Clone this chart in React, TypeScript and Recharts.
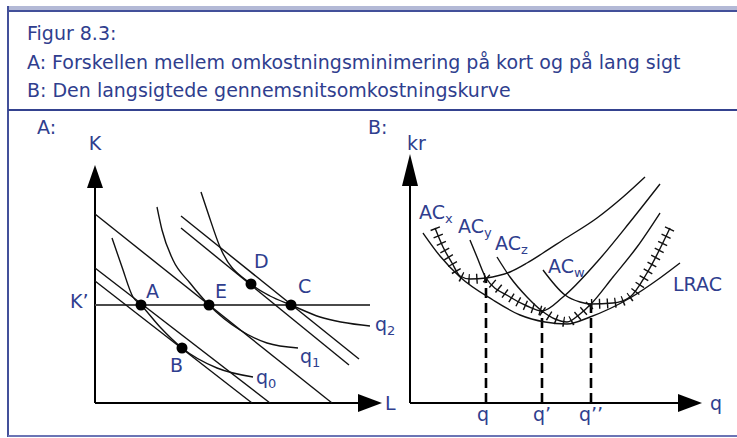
import { ComposedChart, Line, ReferenceDot, ReferenceLine, Scatter, XAxis, YAxis } from "recharts";

const INK = "#2f3e8e";
const FONT = "'DejaVu Sans', Verdana, sans-serif";
const BORDER = "#43509a";

// ---- Panel A: L on x, K on y ----
const isocostA = [{ x: 0, y: 135 }, { x: 175, y: 0 }];
const isocostB = [{ x: 0, y: 122 }, { x: 157, y: 0 }];
const isocostE = [{ x: 0, y: 189 }, { x: 237, y: 0 }];
const isocostC = [{ x: 86, y: 187 }, { x: 264, y: 44 }];
const isocostD = [{ x: 86, y: 175 }, { x: 254, y: 38 }];

const isoquant0 = [
  { x: 17, y: 165 }, { x: 27, y: 136 }, { x: 38, y: 106 }, { x: 46, y: 98 },
  { x: 65, y: 76 }, { x: 87, y: 55 }, { x: 122, y: 35 }, { x: 158, y: 26 },
];
const isoquant1 = [
  { x: 62, y: 196 }, { x: 67, y: 173 }, { x: 78, y: 143 }, { x: 95, y: 120 },
  { x: 114, y: 98 }, { x: 145, y: 73 }, { x: 172, y: 60 }, { x: 203, y: 55 },
];
const isoquant2 = [
  { x: 106, y: 211 }, { x: 113, y: 190 }, { x: 125, y: 156 }, { x: 156, y: 119 },
  { x: 175, y: 107 }, { x: 196, y: 98 }, { x: 225, y: 86 }, { x: 275, y: 77 },
];

const kFixed = 98;
const kFixedEnd = 275;
const axisEndA = { x: 287, y: 238 };

const pointsA = [
  { x: 46, y: 98 }, { x: 87, y: 55 }, { x: 114, y: 98 }, { x: 156, y: 119 }, { x: 196, y: 98 },
];

const labelsA = [
  { x: -58, y: 269, text: "A:" },
  { x: 0, y: 253, text: "K", mid: true },
  { x: -25, y: 95, text: "K’" },
  { x: 51, y: 105, text: "A" },
  { x: 120, y: 105, text: "E" },
  { x: 159, y: 135, text: "D" },
  { x: 203, y: 110, text: "C" },
  { x: 75, y: 31, text: "B" },
  { x: 161, y: 19, text: "q", sub: "0" },
  { x: 205, y: 40, text: "q", sub: "1" },
  { x: 280, y: 72, text: "q", sub: "2" },
  { x: 290, y: -7, text: "L" },
];

// ---- Panel B: q on x, kr on y ----
const lrac = [
  { x: 13, y: 170 }, { x: 30, y: 147 }, { x: 50, y: 126 }, { x: 83, y: 103 }, { x: 110, y: 88 },
  { x: 135, y: 81 }, { x: 157, y: 79 }, { x: 180, y: 86 }, { x: 220, y: 105 }, { x: 250, y: 125 },
  { x: 270, y: 140 },
];
const acX = [
  { x: 25, y: 175 }, { x: 33, y: 156 }, { x: 42, y: 140 }, { x: 50, y: 127 }, { x: 60, y: 124 },
  { x: 76, y: 125 }, { x: 100, y: 131 }, { x: 117, y: 140 }, { x: 133, y: 150 }, { x: 153, y: 163 },
  { x: 187, y: 185 }, { x: 213, y: 206 }, { x: 235, y: 226 },
];
const acY = [
  { x: 60, y: 163 }, { x: 67, y: 146 }, { x: 76, y: 125 }, { x: 100, y: 106 }, { x: 117, y: 97 },
  { x: 132, y: 92 }, { x: 153, y: 106 }, { x: 187, y: 141 }, { x: 220, y: 181 }, { x: 250, y: 219 },
];
const acZ = [
  { x: 87, y: 146 }, { x: 100, y: 126 }, { x: 117, y: 106 }, { x: 132, y: 92 }, { x: 145, y: 84 },
  { x: 157, y: 81 }, { x: 170, y: 89 }, { x: 181, y: 99 }, { x: 203, y: 126 }, { x: 227, y: 156 },
  { x: 250, y: 190 },
];
const acW = [
  { x: 133, y: 133 }, { x: 155, y: 108 }, { x: 170, y: 101 }, { x: 181, y: 99 }, { x: 203, y: 100 },
  { x: 220, y: 106 }, { x: 237, y: 130 }, { x: 260, y: 175 },
];

// envelope of the short-run curves (hatched)
const envelope = [acX.slice(0, 6), acY.slice(2, 6), acZ.slice(3, 8), acW.slice(3)];

const qTicks = [76, 132, 181];
const qTickTops = [125, 92, 99];
const qTickLabels = ["q", "q’", "q’’"];
const axisEndB = { x: 292, y: 249 };

const labelsB = [
  { x: -42, y: 269, text: "B:" },
  { x: -3, y: 253, text: "kr" },
  { x: 9, y: 184, text: "AC", sub: "x" },
  { x: 48, y: 170, text: "AC", sub: "y" },
  { x: 85, y: 153, text: "AC", sub: "z" },
  { x: 138, y: 130, text: "AC", sub: "w" },
  { x: 263, y: 112, text: "LRAC" },
  { x: 300, y: -7, text: "q" },
  ...qTicks.map((t, i) => ({ x: i === 0 ? t - 3 : t, y: -18, text: qTickLabels[i], mid: true })),
];

const renderLabel = (p: any) => {
  const d = p.payload;
  return (
    <text
      x={p.cx}
      y={p.cy}
      textAnchor={d.mid ? "middle" : "start"}
      fontSize={19}
      fontFamily={FONT}
      fill={INK}
    >
      {d.text}
      {d.sub && (
        <tspan fontSize={13} dy={4}>
          {d.sub}
        </tspan>
      )}
    </text>
  );
};

const renderDot = (p: any) => <circle cx={p.cx} cy={p.cy} r={5.5} fill="#000" />;

const arrowRight = (p: any) => (
  <polygon points={`${p.cx},${p.cy} ${p.cx - 24},${p.cy - 9} ${p.cx - 24},${p.cy + 9}`} fill="#000" />
);
const arrowUp = (len: number) => (p: any) => (
  <polygon points={`${p.cx},${p.cy} ${p.cx - 8},${p.cy + len} ${p.cx + 8},${p.cy + len}`} fill="#000" />
);

function curve(data: { x: number; y: number }[], key: string, type: "linear" | "monotone" = "monotone", width = 1.4) {
  return (
    <Line
      key={key}
      data={data}
      dataKey="y"
      type={type}
      stroke="#111"
      strokeWidth={width}
      dot={false}
      activeDot={false}
      isAnimationActive={false}
    />
  );
}

function PanelA() {
  return (
    <ComposedChart width={405} height={324} margin={{ top: 0, right: 0, bottom: 0, left: 0 }}>
      <XAxis type="number" dataKey="x" domain={[-95, 310]} hide allowDataOverflow />
      <YAxis type="number" dataKey="y" domain={[-33, 291]} hide allowDataOverflow />
      <ReferenceLine segment={[{ x: 0, y: 0 }, { x: axisEndA.x - 10, y: 0 }]} stroke="#000" strokeWidth={2} />
      <ReferenceLine segment={[{ x: 0, y: 0 }, { x: 0, y: axisEndA.y - 10 }]} stroke="#000" strokeWidth={2} />
      <ReferenceDot x={axisEndA.x} y={0} r={0} shape={arrowRight} ifOverflow="visible" />
      <ReferenceDot x={0} y={axisEndA.y} r={0} shape={arrowUp(23)} ifOverflow="visible" />
      <ReferenceLine segment={[{ x: 0, y: kFixed }, { x: kFixedEnd, y: kFixed }]} stroke="#4a4a4a" strokeWidth={2.2} />
      {curve(isocostA, "cA", "linear")}
      {curve(isocostB, "cB", "linear")}
      {curve(isocostE, "cE", "linear")}
      {curve(isocostC, "cC", "linear")}
      {curve(isocostD, "cD", "linear")}
      {curve(isoquant0, "q0")}
      {curve(isoquant1, "q1")}
      {curve(isoquant2, "q2")}
      <Scatter data={pointsA} shape={renderDot} isAnimationActive={false} />
      <Scatter data={labelsA} shape={renderLabel} isAnimationActive={false} />
    </ComposedChart>
  );
}

function PanelB() {
  return (
    <ComposedChart width={377} height={324} margin={{ top: 0, right: 0, bottom: 0, left: 0 }}>
      <XAxis type="number" dataKey="x" domain={[-50, 327]} hide allowDataOverflow />
      <YAxis type="number" dataKey="y" domain={[-33, 291]} hide allowDataOverflow />
      <ReferenceLine segment={[{ x: 0, y: 0 }, { x: axisEndB.x - 10, y: 0 }]} stroke="#000" strokeWidth={2} />
      <ReferenceLine segment={[{ x: 0, y: 0 }, { x: 0, y: axisEndB.y - 10 }]} stroke="#000" strokeWidth={2} />
      <ReferenceDot x={axisEndB.x} y={0} r={0} shape={arrowRight} ifOverflow="visible" />
      <ReferenceDot x={0} y={axisEndB.y} r={0} shape={arrowUp(32)} ifOverflow="visible" />
      {qTicks.map((t, i) => (
        <ReferenceLine
          key={t}
          segment={[{ x: t, y: 0 }, { x: t, y: qTickTops[i] }]}
          stroke="#000"
          strokeWidth={2.6}
          strokeDasharray="10 5"
        />
      ))}
      {curve(lrac, "lrac")}
      {curve(acX, "acx")}
      {curve(acY, "acy")}
      {curve(acZ, "acz")}
      {curve(acW, "acw")}
      {envelope.map((seg, i) => (
        <Line
          key={`h${i}`}
          data={seg}
          dataKey="y"
          type="monotone"
          stroke="#111"
          strokeWidth={10}
          strokeDasharray="1.4 6.5"
          dot={false}
          activeDot={false}
          isAnimationActive={false}
        />
      ))}
      <Scatter data={labelsB} shape={renderLabel} isAnimationActive={false} />
    </ComposedChart>
  );
}

const headerLine = (top: number, text: string) => (
  <div
    style={{
      position: "absolute",
      left: 27,
      top,
      fontSize: 19,
      lineHeight: "19px",
      fontFamily: FONT,
      color: INK,
      whiteSpace: "nowrap",
    }}
  >
    {text}
  </div>
);

export default function App() {
  return (
    <div style={{ position: "absolute", left: 0, top: 0, width: 737, height: 438, background: "#fff", overflow: "hidden" }}>
      <div style={{ position: "absolute", left: 8, top: 6, width: 729, height: 4, background: "#b3b9d6" }} />
      <div style={{ position: "absolute", left: 8, top: 10, width: 729, height: 2, background: BORDER }} />
      <div style={{ position: "absolute", left: 7, top: 6, width: 2, height: 431, background: BORDER }} />
      <div style={{ position: "absolute", left: 8, top: 109, width: 729, height: 2, background: "#34428f" }} />
      <div style={{ position: "absolute", left: 8, top: 435, width: 729, height: 2, background: "#6b74b5" }} />
      {headerLine(24, "Figur 8.3:")}
      {headerLine(53, "A: Forskellen mellem omkostningsminimering på kort og på lang sigt")}
      {headerLine(81, "B: Den langsigtede gennemsnitsomkostningskurve")}
      <div style={{ position: "absolute", left: 0, top: 112 }}>
        <PanelA />
      </div>
      <div style={{ position: "absolute", left: 360, top: 112 }}>
        <PanelB />
      </div>
    </div>
  );
}
